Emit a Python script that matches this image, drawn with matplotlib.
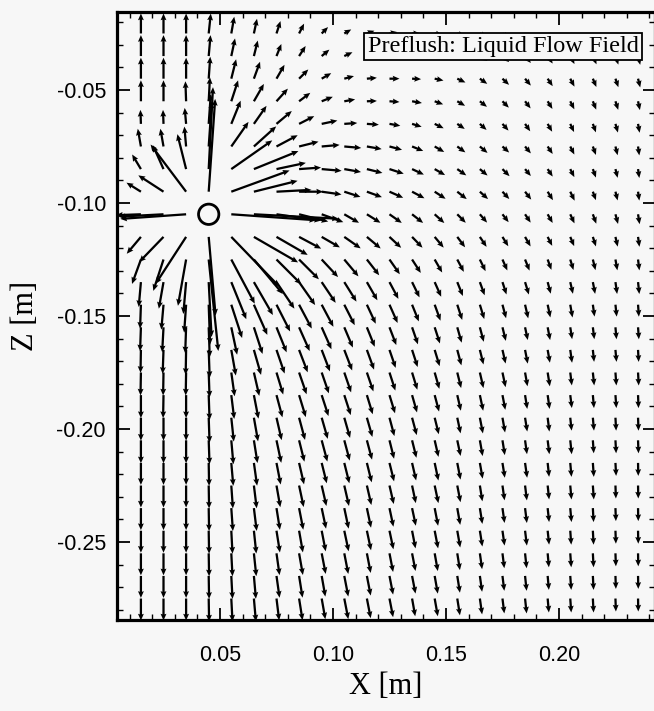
import numpy as np
import matplotlib
matplotlib.use("Agg")
import matplotlib.pyplot as plt
from matplotlib.patches import Circle
from matplotlib.ticker import MultipleLocator, FixedLocator

# ---- data -------------------------------------------------------------
x_nodes = [0.015 + 0.01 * i for i in range(23)]      # column positions [m]
z_nodes = [-0.025 - 0.01 * j for j in range(26)]     # row positions [m]
source_x, source_z = 0.045, -0.105

x_ticks = [0.05, 0.10, 0.15, 0.20]
x_ticklabels = ["0.05", "0.10", "0.15", "0.20"]
z_ticks = [-0.05, -0.10, -0.15, -0.20, -0.25]
z_ticklabels = ["-0.05", "-0.10", "-0.15", "-0.20", "-0.25"]

# flow direction [deg, counter-clockwise from +x], one list per row (top -> bottom)
direction = [
    [90,90,90,84,80,78,72,63,45,30,20,10,0,-10,-20,-30,-40,-48,-55,-60,-65,-70,-75],
    [90,90,90,85,78,76,68,57,40,25,15,5,-2,-10,-22,-32,-42,-50,-56,-62,-66,-71,-76],
    [90,90,90,86,76,70,60,45,30,15,5,0,-3,-12,-25,-35,-43,-50,-56,-62,-67,-71,-76],
    [90,90,92,87,72,60,48,37,22,10,2,-4,-10,-20,-30,-38,-45,-52,-58,-63,-68,-72,-78],
    [92,92,95,86,68,55,40,27,12,4,-4,-10,-17,-26,-34,-42,-48,-55,-60,-65,-70,-74,-80],
    [100,100,95,86,55,42,28,14,5,-5,-10,-15,-22,-30,-36,-40,-42,-50,-56,-63,-70,-76,-82],
    [121,114,104,87,35,22,12,4,-5,-10,-14,-18,-25,-30,-35,-40,-45,-50,-56,-63,-70,-76,-82],
    [148,147,127,86,20,14,3,0,-8,-18,-20,-24,-28,-33,-38,-42,-47,-52,-58,-64,-70,-76,-82],
    [182,183,184,0,-4,-3,-8,-14,-20,-30,-32,-35,-38,-42,-45,-49,-52,-56,-60,-65,-70,-75,-81],
    [-130,-134,-123,-85,-46,-30,-30,-28,-30,-35,-40,-43,-46,-50,-53,-56,-58,-60,-63,-67,-72,-77,-82],
    [-110,-108,-100,-84,-62,-50,-45,-45,-47,-50,-52,-55,-57,-60,-62,-64,-66,-68,-70,-73,-76,-80,-83],
    [-95,-100,-95,-87,-68,-60,-56,-55,-56,-58,-60,-62,-64,-66,-68,-70,-72,-73,-75,-77,-79,-82,-84],
    [-92,-95,-94,-88,-72,-66,-63,-62,-62,-63,-65,-66,-68,-70,-72,-73,-75,-77,-78,-80,-82,-84,-86],
    [-92,-93,-92,-88,-78,-72,-68,-66,-66,-67,-68,-69,-71,-72,-74,-75,-76,-78,-79,-81,-83,-85,-86],
    [-91,-92,-91,-88,-80,-74,-71,-69,-69,-69,-70,-71,-72,-73,-75,-76,-77,-79,-80,-82,-84,-85,-87],
    [-91,-91,-91,-88,-82,-77,-73,-71,-71,-71,-71,-72,-73,-74,-76,-77,-78,-80,-81,-83,-84,-86,-87],
    [-90,-91,-90,-88,-83,-79,-75,-73,-72,-72,-73,-73,-74,-75,-77,-78,-79,-81,-82,-83,-85,-86,-88],
    [-90,-90,-90,-88,-84,-80,-77,-75,-74,-74,-74,-75,-75,-76,-78,-79,-80,-81,-83,-84,-85,-87,-88],
    [-90,-90,-90,-88,-85,-81,-78,-76,-75,-75,-75,-76,-76,-77,-78,-80,-81,-82,-83,-84,-86,-87,-88],
    [-90,-90,-90,-89,-85,-82,-79,-77,-76,-76,-76,-76,-77,-78,-79,-80,-81,-82,-84,-85,-86,-87,-89],
    [-90,-90,-90,-89,-86,-83,-80,-78,-77,-77,-77,-77,-78,-78,-79,-81,-82,-83,-84,-85,-86,-88,-89],
    [-90,-90,-90,-89,-86,-83,-81,-79,-78,-78,-78,-78,-78,-79,-80,-81,-82,-83,-84,-85,-87,-88,-89],
    [-90,-90,-90,-89,-87,-84,-81,-80,-79,-78,-78,-78,-79,-79,-80,-81,-82,-83,-84,-86,-87,-88,-89],
    [-90,-90,-90,-89,-87,-84,-82,-80,-79,-79,-79,-79,-79,-80,-81,-82,-83,-84,-85,-86,-87,-88,-89],
    [-90,-90,-90,-89,-87,-85,-82,-81,-80,-79,-79,-79,-79,-80,-81,-82,-83,-84,-85,-86,-87,-88,-89],
    [-90,-90,-90,-89,-87,-85,-83,-81,-80,-79,-79,-79,-80,-80,-81,-82,-83,-84,-85,-86,-87,-88,-89],
]

# flow speed (arbitrary units), one list per row (top -> bottom)
speed = [
    [20,20,20,20,17,15,13,11,9,8,8,8,8,8,8,8,8,8,8,8,8,8,8],
    [21,21,21,21,18,16,13,12,10,9,9,9,9,9,9,9,9,9,9,9,9,9,9],
    [21,21,21,22,20,18,16,13,11,10,10,10,9,9,9,9,9,9,9,9,9,9,9],
    [21,21,20,24,22,20,17,14,12,11,10,10,10,9,9,9,9,9,9,9,9,9,9],
    [14,14,16,30,25,22,20,17,16,13,12,11,10,10,9,9,9,9,9,9,9,9,9],
    [18,18,20,45,30,30,24,20,18,17,15,13,12,11,10,10,9,9,9,9,9,9,9],
    [17,26,36,82,50,48,30,22,20,17,16,15,13,12,11,10,10,9,9,9,9,9,9],
    [17,30,59,93,62,45,35,24,20,17,16,15,14,13,12,11,10,10,10,10,9,9,9],
    [25,45,66,0,85,85,45,30,23,17,16,15,14,13,12,11,10,10,10,10,10,10,10],
    [22,35,56,79,69,51,36,25,21,20,18,16,15,14,13,12,11,11,10,10,10,10,10],
    [26,33,47,92,50,45,35,28,24,22,20,18,16,15,14,13,12,12,11,11,11,11,11],
    [25,27,32,55,40,38,32,28,25,23,21,19,17,16,15,14,13,13,12,12,12,12,12],
    [24,25,28,40,35,33,30,27,25,23,21,20,18,17,16,15,14,14,13,13,12,12,12],
    [24,25,26,30,28,28,27,26,24,22,21,19,18,17,16,15,14,13,13,12,12,12,12],
    [23,24,25,28,26,26,25,24,23,22,21,19,18,17,16,15,14,14,13,13,12,12,12],
    [23,23,23,25,24,24,23,23,22,21,20,19,18,17,16,16,15,14,14,13,13,13,13],
    [23,23,23,25,24,24,23,23,22,21,20,19,18,17,16,16,15,14,14,13,13,13,13],
    [23,23,23,25,24,24,23,23,22,21,20,19,18,17,16,16,15,14,14,13,13,13,13],
    [23,23,23,24,24,23,23,22,22,21,20,19,18,17,16,16,15,14,14,14,13,13,13],
    [22,22,22,23,23,23,22,22,21,21,20,19,18,18,17,16,15,15,14,14,14,13,13],
    [22,22,22,23,23,23,22,22,21,21,20,19,18,18,17,16,15,15,14,14,14,13,13],
    [22,22,22,23,23,23,22,22,21,21,20,19,18,18,17,16,15,15,14,14,14,13,13],
    [22,22,22,23,23,23,22,22,21,21,20,19,18,18,17,16,15,15,14,14,14,13,13],
    [22,22,22,23,23,23,22,22,21,21,20,19,18,18,17,16,15,15,14,14,14,13,13],
    [22,22,22,23,23,23,22,22,21,21,20,19,18,18,17,16,15,15,14,14,14,13,13],
    [22,22,22,23,23,23,22,22,21,21,20,19,18,18,17,16,15,15,14,14,14,13,13],
]

# ---- figure -------------------------------------------------------------
BG = "#f7f7f7"
fig = plt.figure(figsize=(6.54, 7.11), dpi=100, facecolor=BG)
ax = fig.add_axes([117/654, 1 - 620/711, 538/654, 608/711], facecolor=BG)

X, Z = np.meshgrid(x_nodes, z_nodes)
ang = np.deg2rad(np.array(direction, dtype=float))
spd = np.array(speed, dtype=float)
U = spd * np.cos(ang)
V = spd * np.sin(ang)
mask = spd > 0

ax.quiver(X[mask], Z[mask], U[mask], V[mask], angles="xy", scale_units="xy",
          scale=2260.0, pivot="tail", color="black", width=0.0042,
          headwidth=2.6, headlength=3.0, headaxislength=2.7, minlength=0.5,
          zorder=2)

ax.add_patch(Circle((source_x, source_z), 0.0045, facecolor="none",
                    edgecolor="black", lw=2.0, zorder=3))

ax.set_xlim(0.00442, 0.2425)
ax.set_ylim(-0.2845, -0.0155)

ax.xaxis.set_major_locator(FixedLocator(x_ticks))
ax.set_xticklabels(x_ticklabels)
ax.yaxis.set_major_locator(FixedLocator(z_ticks))
ax.set_yticklabels(z_ticklabels)
ax.xaxis.set_minor_locator(MultipleLocator(0.01))
ax.yaxis.set_minor_locator(MultipleLocator(0.01))

for s in ax.spines.values():
    s.set_linewidth(2.3)

ax.tick_params(which="major", direction="in", length=9, width=1.3,
               top=True, right=True, labelsize=15.5)
ax.tick_params(which="minor", direction="in", length=4, width=1.0,
               top=True, right=True)
ax.tick_params(axis="x", which="major", pad=18)
ax.tick_params(axis="y", which="major", pad=8)
for lab in ax.get_xticklabels() + ax.get_yticklabels():
    lab.set_fontfamily("Liberation Sans")

ax.set_xlabel("X [m]", fontsize=22, family="Liberation Serif", labelpad=4)
ax.set_ylabel("Z [m]", fontsize=22, family="Liberation Serif", labelpad=12)

ax.text(0.7175, 0.9433, "Preflush: Liquid Flow Field", transform=ax.transAxes,
        ha="center", va="center", fontsize=17.5, family="Liberation Serif",
        zorder=5,
        bbox=dict(boxstyle="square,pad=0.14", facecolor=BG, edgecolor="black",
                  lw=1.3))

fig.savefig("out.png", dpi=100, facecolor=BG)
